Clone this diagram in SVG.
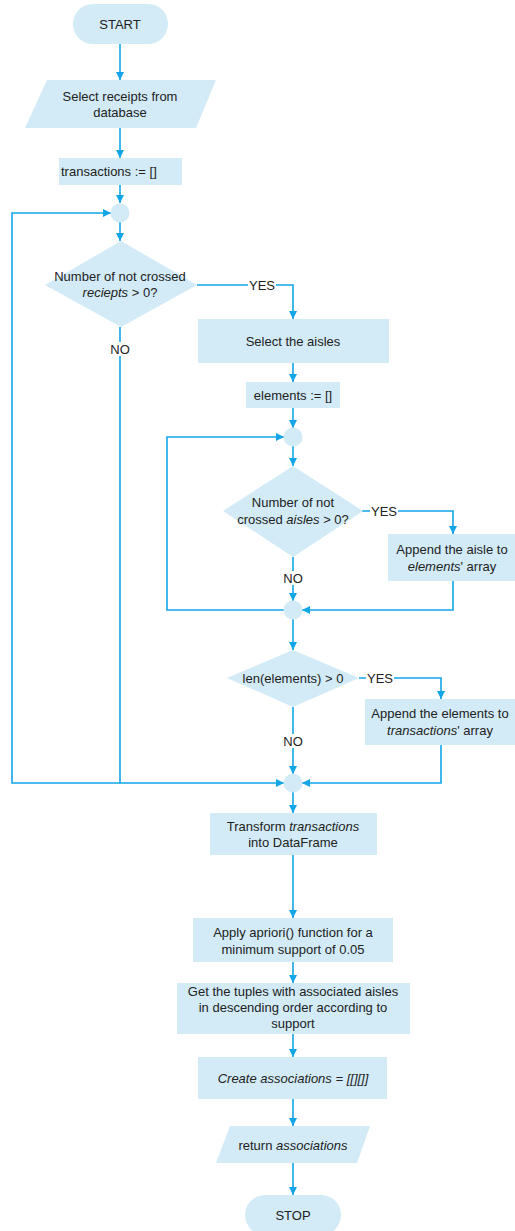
<svg xmlns="http://www.w3.org/2000/svg" width="515" height="1231" viewBox="0 0 515 1231">
<defs>
<marker id="ah" viewBox="0 0 10 10" refX="10" refY="5" markerWidth="8" markerHeight="8" markerUnits="userSpaceOnUse" orient="auto">
<path d="M0,0 L10,5 L0,10 z" fill="#12a5e8"/>
</marker>
<style>
.n{fill:#d2ebf7;stroke:none}
.t{font-family:"Liberation Sans",Arial,sans-serif;font-size:13px;fill:#222;text-anchor:middle}
.c{fill:none;stroke:#12a5e8;stroke-width:1.6}
.a{marker-end:url(#ah)}
.lb{fill:#fff}
</style>
</defs>
<rect width="515" height="1231" fill="#fff"/>
<g id="connectors">
<path class="c a" d="M120,44 V80"/>
<path class="c a" d="M120,128 V158"/>
<path class="c a" d="M120,185 V203"/>
<path class="c a" d="M120,222 V241"/>
<path class="c a" d="M197,285 H293 V319"/>
<path class="c a" d="M120,327 V783 H284"/>
<path class="c a" d="M120,783 H12 V213 H111"/>
<path class="c a" d="M293,362 V382"/>
<path class="c a" d="M293,408 V428"/>
<path class="c a" d="M293,446 V466"/>
<path class="c a" d="M362,511 H453 V534"/>
<path class="c a" d="M293,557 V601"/>
<path class="c a" d="M453,581 V610 H302"/>
<path class="c a" d="M284,610 H167 V437 H284"/>
<path class="c a" d="M293,619 V650"/>
<path class="c a" d="M359,678 H441 V699"/>
<path class="c a" d="M293,707 V774"/>
<path class="c a" d="M441,745 V783 H302"/>
<path class="c a" d="M293,792 V813"/>
<path class="c a" d="M293,855 V918"/>
<path class="c a" d="M293,962 V983"/>
<path class="c a" d="M293,1034 V1057"/>
<path class="c a" d="M293,1099 V1126"/>
<path class="c a" d="M293,1163 V1195"/>
<rect class="lb" x="248" y="278" width="28" height="14"/>
<text class="t" x="262" y="289.5">YES</text>
<rect class="lb" x="108" y="342" width="25" height="14"/>
<text class="t" x="120" y="353.5">NO</text>
<rect class="lb" x="370" y="504" width="28" height="14"/>
<text class="t" x="384" y="515.5">YES</text>
<rect class="lb" x="281" y="571" width="25" height="14"/>
<text class="t" x="293" y="582.5">NO</text>
<rect class="lb" x="366" y="671" width="28" height="14"/>
<text class="t" x="380" y="682.5">YES</text>
<rect class="lb" x="281" y="734" width="25" height="14"/>
<text class="t" x="293" y="745.5">NO</text>
</g>
<g id="start"><rect class="n" x="73" y="4" width="95" height="40" rx="20"/><text class="t" x="120" y="28.5">START</text></g>
<g id="select-receipts"><polygon class="n" points="47,80 216,80 196,128 25,128"/><text class="t" x="120" y="101">Select receipts from</text><text class="t" x="120" y="117">database</text></g>
<g id="transactions-init"><rect class="n" x="59" y="158" width="123" height="27"/><text class="t" x="61" y="176" style="text-anchor:start">transactions := []</text></g>
<g id="merge1"><circle class="n" cx="120" cy="213" r="9.5"/></g>
<g id="dec-receipts"><polygon class="n" points="121,241 197,285 121,327 45,285"/><text class="t" x="120" y="281">Number of not crossed</text><text class="t" x="120" y="297"><tspan font-style="italic">reciepts</tspan> &gt; 0?</text></g>
<g id="select-aisles"><rect class="n" x="198" y="319" width="191" height="44"/><text class="t" x="293" y="345.5">Select the aisles</text></g>
<g id="elements-init"><rect class="n" x="246" y="382" width="94" height="26"/><text class="t" x="293" y="399.5">elements := []</text></g>
<g id="merge2"><circle class="n" cx="293" cy="437" r="9.5"/></g>
<g id="dec-aisles"><polygon class="n" points="293,466 363,511 293,557 223,511"/><text class="t" x="293" y="507">Number of not</text><text class="t" x="293" y="524">crossed <tspan font-style="italic">aisles</tspan> &gt; 0?</text></g>
<g id="append-aisle"><rect class="n" x="388" y="534" width="127" height="47"/><text class="t" x="452" y="554">Append the aisle to</text><text class="t" x="452" y="571"><tspan font-style="italic">elements</tspan>' array</text></g>
<g id="merge3"><circle class="n" cx="293" cy="610" r="9.5"/></g>
<g id="dec-len"><polygon class="n" points="293,650 359,678 293,707 227,678"/><text class="t" x="293" y="682.5">len(elements) &gt; 0</text></g>
<g id="append-elements"><rect class="n" x="365" y="699" width="150" height="46"/><text class="t" x="440" y="718">Append the elements to</text><text class="t" x="440" y="735"><tspan font-style="italic">transactions</tspan>' array</text></g>
<g id="merge4"><circle class="n" cx="293" cy="783" r="9.5"/></g>
<g id="transform"><rect class="n" x="210" y="813" width="167" height="42"/><text class="t" x="293" y="831">Transform <tspan font-style="italic">transactions</tspan></text><text class="t" x="293" y="847">into DataFrame</text></g>
<g id="apriori"><rect class="n" x="193" y="918" width="200" height="44"/><text class="t" x="293" y="937">Apply apriori() function for a</text><text class="t" x="293" y="954">minimum support of 0.05</text></g>
<g id="tuples"><rect class="n" x="177" y="983" width="233" height="51"/><text class="t" x="293" y="996">Get the tuples with associated aisles</text><text class="t" x="293" y="1012">in descending order according to</text><text class="t" x="293" y="1028">support</text></g>
<g id="create"><rect class="n" x="198" y="1057" width="189" height="42"/><text class="t" x="293" y="1083" font-style="italic">Create associations = [[][]]</text></g>
<g id="return"><polygon class="n" points="230,1126 370,1126 357,1163 216,1163"/><text class="t" x="293" y="1150">return <tspan font-style="italic">associations</tspan></text></g>
<g id="stop"><rect class="n" x="245" y="1195" width="96" height="40" rx="20"/><text class="t" x="293" y="1219.5">STOP</text></g>
</svg>
